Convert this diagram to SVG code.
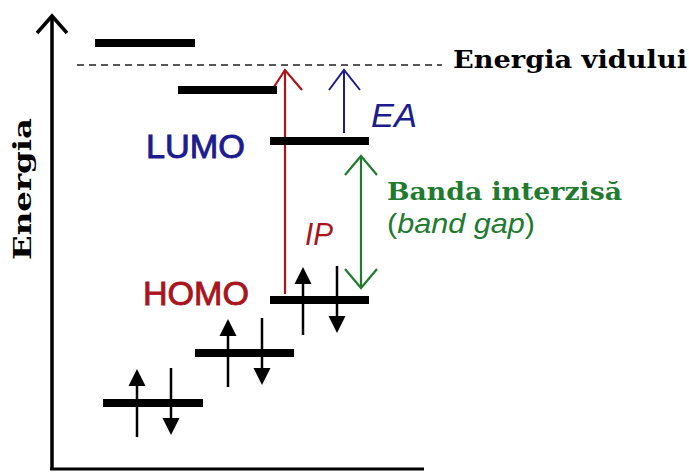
<svg xmlns="http://www.w3.org/2000/svg" width="689" height="472" viewBox="0 0 689 472">
<style>
.lvl{fill:#000}
.sans{font-family:"Liberation Sans",Arial,sans-serif}
.heavy{stroke-width:0.9}
.serifb{font-family:"DejaVu Serif","Liberation Serif",serif;font-weight:bold}
.e{stroke:#000;stroke-width:2.5;fill:none}
</style>
<rect width="689" height="472" fill="#fff"/>
<!-- axes -->
<g id="axes" fill="none" stroke="#000">
<line x1="52" y1="16" x2="52" y2="470" stroke-width="3.5"/>
<polyline points="37,33 52,16 67,33" stroke-width="3.5"/>
<line x1="50" y1="469" x2="424" y2="469" stroke-width="3"/>
</g>
<g id="axis-label">
<text class="serifb" font-size="24" transform="translate(31,260) rotate(-90)" textLength="142" lengthAdjust="spacingAndGlyphs">Energia</text>
</g>
<!-- vacuum level -->
<g id="vacuum">
<line x1="77" y1="65" x2="442" y2="65" stroke="#222" stroke-width="1.3" stroke-dasharray="7,5"/>
<text class="serifb" x="453" y="68" font-size="23.5" textLength="234" lengthAdjust="spacingAndGlyphs">Energia vidului</text>
</g>
<!-- connectors -->
<g id="connectors" fill="none">
<g id="ip-arrow" stroke="#a8151c" stroke-width="2.2">
<line x1="285" y1="294" x2="285" y2="70"/>
<polyline points="272,90 285,70 302,90"/>
</g>
<g id="ea-arrow" stroke="#1c1c8e" stroke-width="2">
<line x1="344" y1="133" x2="344" y2="70"/>
<polyline points="329,90 344,70 360,90"/>
</g>
<g id="gap-arrow" stroke="#217a2e" stroke-width="2.2">
<line x1="361" y1="156" x2="361" y2="288"/>
<polyline points="345,175 361,156 377,175"/>
<polyline points="345,269 361,288 377,269"/>
</g>
</g>
<!-- levels -->
<g id="level-top"><rect class="lvl" x="95" y="39" width="100" height="8"/></g>
<g id="level-2"><rect class="lvl" x="178" y="86" width="99" height="8"/></g>
<g id="lumo">
<rect class="lvl" x="270" y="137" width="99" height="8"/>
<text class="sans heavy" x="146" y="158" font-size="34" fill="#1c1c8e" stroke="#1c1c8e" textLength="99" lengthAdjust="spacingAndGlyphs">LUMO</text>
</g>
<g id="homo">
<rect class="lvl" x="270" y="296" width="99" height="8"/>
<text class="sans heavy" x="143" y="305" font-size="34" fill="#a8151c" stroke="#a8151c" textLength="106" lengthAdjust="spacingAndGlyphs">HOMO</text>
<line class="e" x1="303" y1="335" x2="303" y2="280"/>
<polygon points="303,267 294.5,284 311.5,284"/>
<line class="e" x1="337" y1="266" x2="337" y2="320"/>
<polygon points="337,333 328.5,316 345.5,316"/>
</g>
<g id="level-5">
<rect class="lvl" x="195" y="349" width="99" height="8"/>
<line class="e" x1="228" y1="387" x2="228" y2="332"/>
<polygon points="228,319 219.5,336 236.5,336"/>
<line class="e" x1="262" y1="318" x2="262" y2="372"/>
<polygon points="262,385 253.5,368 270.5,368"/>
</g>
<g id="level-6">
<rect class="lvl" x="103" y="399" width="100" height="8"/>
<line class="e" x1="137" y1="437" x2="137" y2="382"/>
<polygon points="137,369 128.5,386 145.5,386"/>
<line class="e" x1="171" y1="368" x2="171" y2="422"/>
<polygon points="171,435 162.5,418 179.5,418"/>
</g>
<!-- labels -->
<g id="labels">
<text class="sans" x="371" y="127" font-size="34" font-style="italic" fill="#1c1c8e" textLength="46" lengthAdjust="spacingAndGlyphs">EA</text>
<text class="sans" x="305" y="245" font-size="31" font-style="italic" fill="#a8151c" textLength="28" lengthAdjust="spacingAndGlyphs">IP</text>
<text class="serifb" x="387" y="200" font-size="23.5" fill="#217a2e" textLength="235" lengthAdjust="spacingAndGlyphs">Banda interzisă</text>
<text class="sans" x="387" y="233" font-size="28" fill="#217a2e" textLength="148" lengthAdjust="spacingAndGlyphs">(<tspan font-style="italic">band gap</tspan>)</text>
</g>
</svg>
